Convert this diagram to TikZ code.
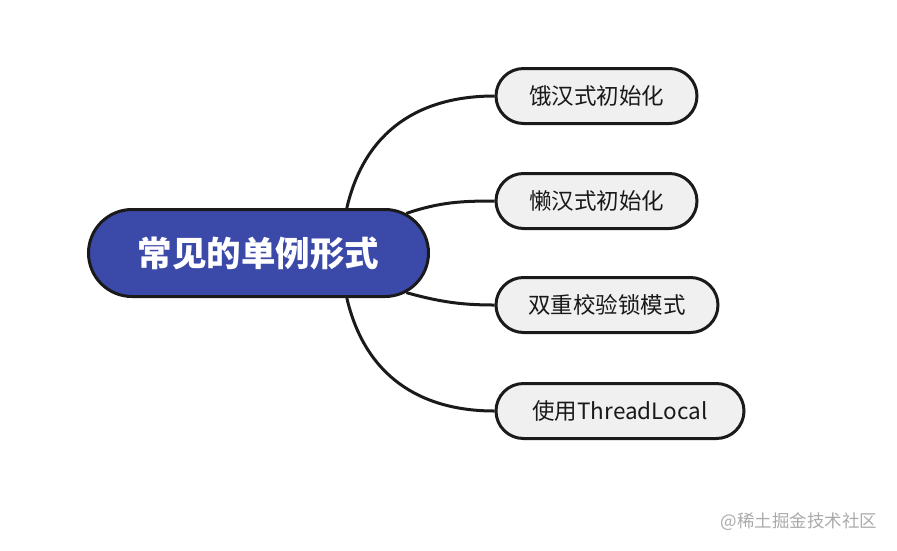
\documentclass[tikz,border=0pt]{standalone}
\usepackage{fontspec}
\newfontfamily\cjk{Noto Sans CJK SC}
\usetikzlibrary{shapes.misc,backgrounds}
\definecolor{rootblue}{RGB}{59,73,168}
\definecolor{leafgray}{RGB}{240,240,240}
\definecolor{linec}{RGB}{26,26,26}
\definecolor{marktext}{RGB}{170,170,170}
\begin{document}
\begin{tikzpicture}[x=1pt,y=-1pt,
  root/.style={rounded rectangle, draw=linec, line width=3pt, fill=rootblue,
    minimum width=340pt, minimum height=87pt, inner sep=0pt, text=white,
    font=\cjk\bfseries\fontsize{34.5}{38}\selectfont},
  leaf/.style={rounded rectangle, draw=linec, line width=3pt, fill=leafgray,
    minimum height=55pt, inner sep=0pt, anchor=west, text=black!90,
    font=\cjk\fontsize{22.5}{26}\selectfont},
  link/.style={draw=linec, line width=3pt}]
\useasboundingbox (0,0) rectangle (897,550);
\node[root] (c) at (258.5,253) {常见的单例形式};
\node[leaf, minimum width=201pt] (a) at (494.5,96) {饿汉式初始化};
\node[leaf, minimum width=201pt] (b) at (494.5,201) {懒汉式初始化};
\node[leaf, minimum width=222pt] (d) at (494.5,305) {双重校验锁模式};
\node[leaf, minimum width=248pt] (e) at (494.5,411) {使用ThreadLocal};
\node[text=marktext, font=\cjk\fontsize{17.5}{20}\selectfont] (w) at (799,522) {@稀土掘金技术社区};
\begin{scope}[on background layer]
\draw[link] (c.27) .. controls (365,130) and (420,96) .. (a.west);
\draw[link] (c.15) .. controls (440,202) and (462,201) .. (b.west);
\draw[link] (c.-15) .. controls (440,302) and (462,305) .. (d.west);
\draw[link] (c.-27) .. controls (365,376) and (420,411) .. (e.west);
\end{scope}
\end{tikzpicture}
\end{document}
